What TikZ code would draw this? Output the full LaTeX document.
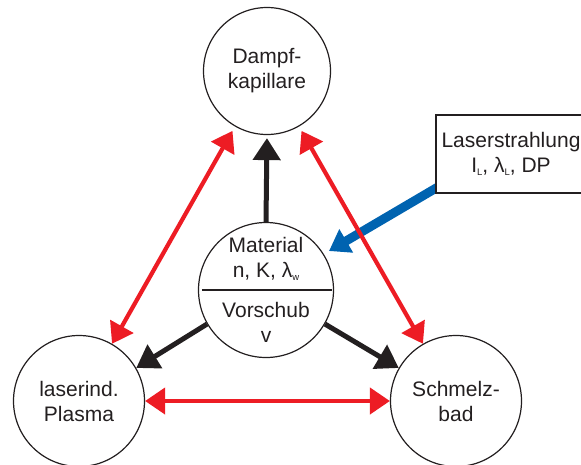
\documentclass[tikz,border=0pt]{standalone}
\usepackage{fontspec}
\setmainfont{Liberation Sans}
\usetikzlibrary{arrows.meta,backgrounds,calc}
\definecolor{myred}{RGB}{237,28,36}
\definecolor{myblue}{RGB}{0,99,176}
\definecolor{myblack}{RGB}{35,31,32}
\newcommand{\lsub}[1]{\raisebox{-2.5pt}{\fontsize{9.5}{9.5}\selectfont #1}}
\begin{document}
\begin{tikzpicture}[x=1pt,y=-1pt,
  every node/.style={font=\fontsize{21}{25}\selectfont, text=myblack},
  circ/.style={draw=myblack, line width=1.2pt, circle, inner sep=0pt, align=center},
  txt/.style={align=center, inner sep=0pt},
  lbox/.style={draw=myblack, line width=1.2pt, fill=white, minimum width=150pt, minimum height=78pt, align=center, inner sep=0pt},
  redarr/.style={draw=myred, line width=4.2pt, {Triangle[length=20pt,width=26pt]}-{Triangle[length=20pt,width=26pt]}},
  blkarr/.style={draw=myblack, line width=5pt, -{Triangle[length=22pt,width=27pt]}},
  bluarr/.style={draw=myblue, line width=9pt, -{Triangle[length=20pt,width=26pt]}}]
\useasboundingbox (0,0) rectangle (581,464);
\clip (0,0) rectangle (581,464);

\node[circ, minimum size=127pt] (T) at (267,71) {Dampf-\\kapillare};
\node[circ, minimum size=135pt] (C) at (266,290) {};
\node[circ, minimum size=131pt] (L) at (79,401) {laserind.\\Plasma};
\node[circ, minimum size=131pt] (R) at (456,401) {Schmelz-\\bad};

\node[txt] (mat) at (266,259) {Material\\n, K, λ\lsub{w}};
\node[txt] (vor) at (266,322) {Vorschub\\v};
\draw[myblack, line width=1.2pt] ([xshift=4pt]C.west) -- ([xshift=-2pt]C.east);

\node[lbox] (box) at (511,154) {Laserstrahlung\\I\lsub{L}, λ\lsub{L}, DP};
\coordinate (bt) at (329,251);
\begin{scope}[on background layer]
\draw[bluarr] ($(box.south west)+(10,-11)$) -- (bt);
\end{scope}

\draw[blkarr, shorten >=3pt] (C.90) -- (T.270);
\draw[blkarr] (C.210) -- (L.30);
\draw[blkarr] (C.330) -- (R.150);

\draw[redarr, shorten <=5pt] (T.240) -- (L.60);
\draw[redarr, shorten <=5pt] (T.300) -- (R.120);
\draw[redarr] (L.0) -- (R.180);
\end{tikzpicture}
\end{document}
